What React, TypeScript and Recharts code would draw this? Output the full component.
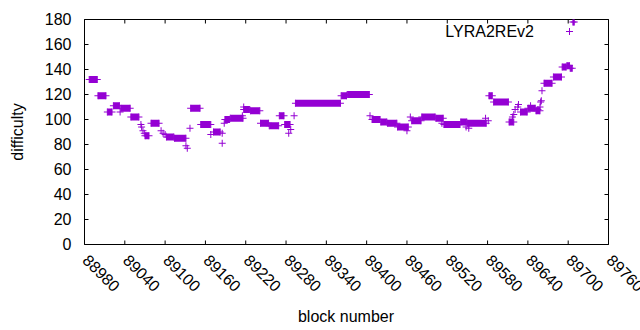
import React from 'react';
import { ComposedChart, Line, XAxis, YAxis, ReferenceArea, Legend } from 'recharts';

const COLOR = '#9400d3';
const FONT = '"Liberation Sans", Arial, sans-serif';
const FS = 16;

const xTicks = [88980, 89040, 89100, 89160, 89220, 89280, 89340, 89400, 89460, 89520, 89580, 89640, 89700, 89760];
const yTicks = [0, 20, 40, 60, 80, 100, 120, 140, 160, 180];

// runs of constant difficulty (first block, last block, difficulty)
const runStart = [88987, 89000, 89014, 89023, 89034, 89049, 89070, 89079, 89102, 89114, 89138, 89153, 89172, 89189, 89197, 89217, 89227, 89242, 89255, 89270, 89278, 89294, 89362, 89371, 89408, 89421, 89431, 89446, 89467, 89482, 89503, 89515, 89540, 89550, 89582, 89589, 89612, 89629, 89640, 89652, 89664, 89678, 89691, 89698, 89703, 89707];
const runEnd = [88999, 89012, 89021, 89032, 89048, 89061, 89076, 89091, 89113, 89131, 89152, 89168, 89182, 89196, 89216, 89226, 89241, 89254, 89269, 89277, 89286, 89361, 89370, 89404, 89420, 89430, 89445, 89462, 89481, 89502, 89514, 89539, 89549, 89578, 89587, 89611, 89619, 89639, 89651, 89658, 89676, 89690, 89697, 89702, 89706, 89709];
const runValue = [132, 119, 106, 111, 109, 102, 87, 97, 86, 85, 109, 96, 90, 100, 101, 108, 107, 97, 95, 103, 96, 113, 119, 120, 100, 98, 97, 94, 99, 102, 101, 96, 98, 97, 119, 114, 98, 106, 109, 107, 129, 134, 142, 143, 141, 178];

// isolated blocks
const singleBlock = [89033, 89064, 89065, 89067, 89069, 89094, 89097, 89100, 89131, 89133, 89137, 89168, 89185, 89185, 89188, 89215, 89217, 89284, 89287, 89292, 89405, 89460, 89465, 89512, 89548, 89552, 89577, 89581, 89617, 89619, 89621, 89625, 89626, 89644, 89655, 89658, 89659, 89660, 89661];
const singleValue = [106, 96, 94, 91, 89, 91, 89, 88, 79, 77, 93, 88, 89, 81, 97, 103, 110, 89, 92, 103, 103, 91, 102, 97, 94, 93, 101, 99, 102, 104, 108, 110, 112, 111, 108, 110, 114, 115, 123];

type P = { block: number; difficulty: number | null };
const data: P[] = [];
runStart.forEach((s, i) => {
  data.push({ block: s, difficulty: runValue[i] });
  data.push({ block: runEnd[i], difficulty: runValue[i] });
  data.push({ block: runEnd[i], difficulty: null });
});
singleBlock.forEach((b, i) => {
  data.push({ block: b, difficulty: singleValue[i] });
  data.push({ block: b, difficulty: null });
});

const ARM = 3.5;
const TICK = 4;

const PlusDot = (props: any) => {
  const { cx, cy, payload } = props;
  if (cx == null || cy == null || !payload || payload.difficulty == null) return <g />;
  return (
    <path
      d={`M${cx - ARM},${cy}H${cx + ARM}M${cx},${cy - ARM}V${cy + ARM}`}
      stroke={COLOR}
      strokeWidth={1}
      fill="none"
    />
  );
};

const BottomTick = (props: any) => {
  const { x, y, payload } = props;
  const tx = x + 1;
  const ty = y + 13;
  return (
    <g>
      <line x1={x} y1={y} x2={x} y2={y - TICK} stroke="#000" strokeWidth={1} />
      <text
        x={tx}
        y={ty}
        transform={`rotate(45 ${tx} ${ty})`}
        textAnchor="start"
        dominantBaseline="central"
        fontFamily={FONT}
        fontSize={FS}
        fill="#000"
      >
        {payload.value}
      </text>
    </g>
  );
};

const TopTick = (props: any) => {
  const { x, y } = props;
  return <line x1={x} y1={y} x2={x} y2={y + TICK} stroke="#000" strokeWidth={1} />;
};

const LeftTick = (props: any) => {
  const { x, y, payload } = props;
  return (
    <g>
      <line x1={x} y1={y} x2={x + TICK} y2={y} stroke="#000" strokeWidth={1} />
      <text
        x={x - 13}
        y={y}
        textAnchor="end"
        dominantBaseline="central"
        fontFamily={FONT}
        fontSize={FS}
        fill="#000"
      >
        {payload.value}
      </text>
    </g>
  );
};

const RightTick = (props: any) => {
  const { x, y } = props;
  return <line x1={x} y1={y} x2={x - TICK} y2={y} stroke="#000" strokeWidth={1} />;
};

const LegendContent = () => (
  <svg width={640} height={50} style={{ display: 'block' }}>
    <text x={534} y={31} textAnchor="end" dominantBaseline="central" fontFamily={FONT} fontSize={FS} fill="#000">
      LYRA2REv2
    </text>
    <path d={`M${569.5 - ARM},31.5H${569.5 + ARM}M569.5,${31.5 - ARM}V${31.5 + ARM}`} stroke={COLOR} strokeWidth={1} fill="none" />
  </svg>
);

export default function App() {
  return (
    <div style={{ position: 'absolute', left: 0, top: 0, width: 640, height: 330, background: '#fff' }}>
      <ComposedChart
        width={640}
        height={330}
        data={data}
        margin={{ top: 9.5, right: 21.5, bottom: 25.5, left: 24.5 }}
      >
        <XAxis
          dataKey="block"
          type="number"
          domain={[88980, 89760]}
          ticks={xTicks}
          interval={0}
          allowDataOverflow
          height={60}
          axisLine={false}
          tickLine={false}
          tickSize={0}
          tickMargin={0}
          tick={<BottomTick />}
        />
        <XAxis
          xAxisId="top"
          orientation="top"
          dataKey="block"
          type="number"
          domain={[88980, 89760]}
          ticks={xTicks}
          interval={0}
          allowDataOverflow
          height={10}
          axisLine={false}
          tickLine={false}
          tickSize={0}
          tickMargin={0}
          tick={<TopTick />}
        />
        <YAxis
          type="number"
          domain={[0, 180]}
          ticks={yTicks}
          interval={0}
          allowDataOverflow
          width={60}
          axisLine={false}
          tickLine={false}
          tickSize={0}
          tickMargin={0}
          tick={<LeftTick />}
        />
        <YAxis
          yAxisId="right"
          orientation="right"
          type="number"
          domain={[0, 180]}
          ticks={yTicks}
          interval={0}
          allowDataOverflow
          width={10}
          axisLine={false}
          tickLine={false}
          tickSize={0}
          tickMargin={0}
          tick={<RightTick />}
        />
        <ReferenceArea x1={88980} x2={89760} y1={0} y2={180} fill="none" stroke="#000" strokeWidth={1} fillOpacity={0} ifOverflow="visible" />
        <Legend
          layout="horizontal"
          verticalAlign="middle"
          align="center"
          content={<LegendContent />}
          wrapperStyle={{ left: 0, top: 0, width: 640, height: 50 }}
        />
        <Line
          dataKey="difficulty"
          stroke={COLOR}
          strokeWidth={7}
          connectNulls={false}
          dot={<PlusDot />}
          activeDot={false}
          isAnimationActive={false}
          legendType="none"
        />
        <text x={346} y={316} textAnchor="middle" dominantBaseline="central" fontFamily={FONT} fontSize={FS} fill="#000">
          block number
        </text>
        <text x={17} y={132} transform="rotate(-90 17 132)" textAnchor="middle" dominantBaseline="central" fontFamily={FONT} fontSize={FS} fill="#000">
          difficulty
        </text>
      </ComposedChart>
    </div>
  );
}
